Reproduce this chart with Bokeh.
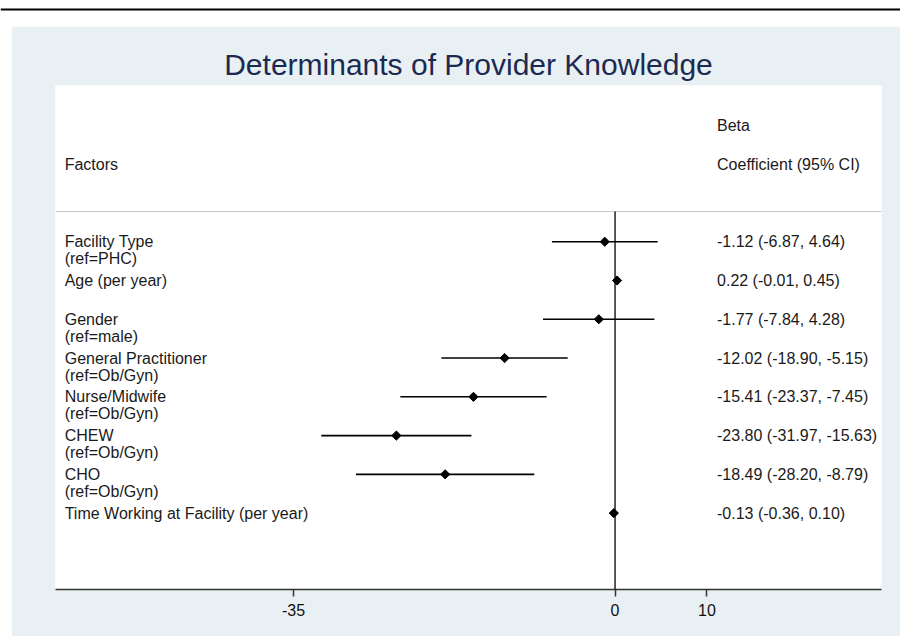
from bokeh.plotting import figure
from bokeh.models import Range1d, FixedTicker, Span, Spacer, ColumnDataSource
from bokeh.layouts import column, row
from bokeh.core.properties import value
from bokeh.embed import file_html
from bokeh.resources import INLINE

# ---- data ----
factors = ["Facility Type", "Age (per year)", "Gender", "General Practitioner",
           "Nurse/Midwife", "CHEW", "CHO", "Time Working at Facility (per year)"]
refs = ["(ref=PHC)", "", "(ref=male)", "(ref=Ob/Gyn)", "(ref=Ob/Gyn)",
        "(ref=Ob/Gyn)", "(ref=Ob/Gyn)", ""]
beta = [-1.12, 0.22, -1.77, -12.02, -15.41, -23.80, -18.49, -0.13]
ci_low = [-6.87, -0.01, -7.84, -18.90, -23.37, -31.97, -28.20, -0.36]
ci_high = [4.64, 0.45, 4.28, -5.15, -7.45, -15.63, -8.79, 0.10]
x_ticks = [-35, 0, 10]
x_tick_labels = ["-35", "0", "10"]

FONT = "Liberation Sans"
BG = "#e8f0f3"

rows = [3 + i for i in range(len(factors))]
ci_text = [f"{b:.2f} ({l:.2f}, {h:.2f})" for b, l, h in zip(beta, ci_low, ci_high)]
src = ColumnDataSource(dict(y=rows, factor=factors, ref=refs, beta=beta,
                            lo=ci_low, hi=ci_high, ci=ci_text))

# ---- header strip with rule ----
head = figure(width=900, height=26, output_backend="svg", toolbar_location=None,
              x_range=Range1d(0, 1), y_range=Range1d(0, 26), min_border=0)
head.axis.visible = False
head.grid.visible = False
head.outline_line_color = None
head.background_fill_color = "white"
head.border_fill_color = "white"
head.add_layout(Span(location=17, dimension="width", line_color="black", line_width=2))

# ---- main figure ----
p = figure(width=889, height=610, output_backend="svg", toolbar_location=None,
           x_range=Range1d(-60.9, 29.0), y_range=Range1d(11.97, -1.03),
           min_border_left=44, min_border_right=19, min_border_top=59,
           min_border_bottom=47)
p.background_fill_color = "white"
p.border_fill_color = BG
p.outline_line_color = None
p.grid.visible = False
p.yaxis.visible = False

p.title.text = "Determinants of Provider Knowledge"
p.title.align = "center"
p.title.text_font = FONT
p.title.text_font_size = "30px"
p.title.text_font_style = "normal"
p.title.text_color = "#1c2a52"
p.title.standoff = 9

ax = p.xaxis[0]
ax.ticker = FixedTicker(ticks=x_ticks)
ax.major_label_overrides = {t: s for t, s in zip(x_ticks, x_tick_labels)}
ax.minor_tick_line_color = None
ax.major_tick_in = 0
ax.major_tick_out = 7
ax.axis_line_color = "#333333"
ax.axis_line_width = 1.5
ax.major_tick_line_color = "#333333"
ax.major_tick_line_width = 1.5
ax.major_label_text_font = FONT
ax.major_label_text_font_size = "16px"
ax.major_label_text_color = "#111111"
ax.major_label_standoff = 7

sep = 2.22
p.segment(x0=[-60.9], x1=[29.0], y0=[sep], y1=[sep], line_color="#c8c8c8", line_width=1)
p.segment(x0=[0], x1=[0], y0=[sep], y1=[11.97], line_color="black", line_width=1.3)

# CIs and points
p.segment(x0="lo", x1="hi", y0="y", y1="y", source=src, line_color="black", line_width=1.6)
p.scatter(x="beta", y="y", source=src, marker="square", size=6.5, angle=0.785398,
          fill_color="black", line_color="black")

txt = dict(text_font=value(FONT), text_font_size="16px", text_color="#1a1a1a",
           text_baseline="middle", text_align="left")
left_x = -59.9
right_x = 11.1
p.text(x=left_x, y="y", text="factor", source=src, **txt)
p.text(x=left_x, y="y", text="ref", source=src, y_offset=17, **txt)
p.text(x=right_x, y="y", text="ci", source=src, **txt)

p.text(x=[left_x], y=[1], text=["Factors"], **txt)
p.text(x=[right_x], y=[0], text=["Beta"], **txt)
p.text(x=[right_x], y=[1], text=["Coefficient (95% CI)"], **txt)

layout = column(head, row(Spacer(width=11, height=610), p))
open("out.html", "w").write(file_html(layout, INLINE))
